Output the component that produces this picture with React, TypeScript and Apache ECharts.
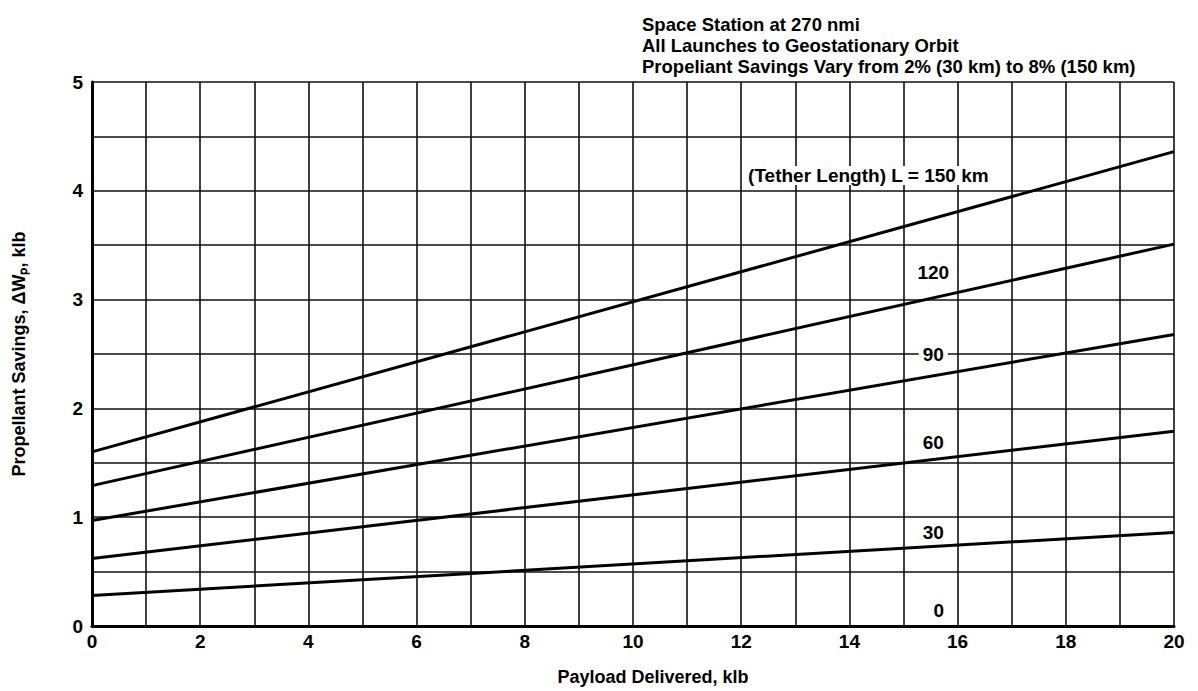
import React, { useEffect, useRef } from "react";
import * as echarts from "echarts";

// Payload delivered (klb) at the two ends of each straight curve
const payloadEnds = [0, 20];

// Propellant savings (klb) at payload 0 and 20 klb, per tether length
const savings150 = [1.6, 4.36];
const savings120 = [1.29, 3.51];
const savings90 = [0.97, 2.68];
const savings60 = [0.62, 1.79];
const savings30 = [0.28, 0.86];

// Curve labels: [x, y, text]
const curveLabels: [number, number, string][] = [
  [14.35, 4.14, "(Tether Length) L = 150 km"],
  [15.55, 3.25, "120"],
  [15.55, 2.5, "90"],
  [15.55, 1.69, "60"],
  [15.55, 0.86, "30"],
  [15.65, 0.14, "0"],
];

const titleLines = [
  "Space Station at 270 nmi",
  "All Launches to Geostationary Orbit",
  "Propeliant Savings Vary from 2% (30 km) to 8% (150 km)",
];

const FONT = "'Liberation Sans', Arial, sans-serif";

export default function App() {
  const ref = useRef<HTMLDivElement>(null);

  useEffect(() => {
    if (!ref.current) return;
    const chart = echarts.init(ref.current, undefined, { renderer: "svg" });

    const curves = [savings150, savings120, savings90, savings60, savings30];
    const lineSeries = curves.map((vals) => ({
      type: "line",
      data: payloadEnds.map((x, i) => [x, vals[i]]),
      symbol: "none",
      silent: true,
      lineStyle: { color: "#000", width: 3 },
      z: 5,
    }));

    chart.setOption({
      animation: false,
      backgroundColor: "#fff",
      title: {
        text: titleLines.join("\n"),
        left: 637,
        top: 9,
        textStyle: {
          fontFamily: FONT,
          fontWeight: "bold",
          fontSize: 18.5,
          lineHeight: 21,
          color: "#000",
        },
      },
      grid: { left: 92, right: 24, top: 82, bottom: 64, containLabel: false },
      xAxis: {
        type: "value",
        min: 0,
        max: 20,
        interval: 1,
        name: "Payload Delivered, klb",
        nameLocation: "middle",
        nameGap: 42,
        nameTextStyle: {
          fontFamily: FONT,
          fontWeight: "bold",
          fontSize: 18,
          color: "#000",
          padding: [0, 0, 0, 40],
        },
        axisLine: { show: true, onZero: false, lineStyle: { color: "#000", width: 3 } },
        axisTick: { show: false },
        axisLabel: {
          fontFamily: FONT,
          fontWeight: "bold",
          fontSize: 19,
          color: "#000",
          margin: 6,
          formatter: (v: number) => (v % 2 === 0 ? String(v) : ""),
        },
        splitLine: { show: true, lineStyle: { color: "#111", width: 1.6 } },
      },
      yAxis: {
        type: "value",
        min: 0,
        max: 5,
        interval: 0.5,
        name: "Propellant Savings, ΔWₚ, klb",
        nameLocation: "middle",
        nameGap: 64,
        nameTextStyle: { fontFamily: FONT, fontWeight: "bold", fontSize: 18, color: "#000" },
        axisLine: { show: true, onZero: false, lineStyle: { color: "#000", width: 3 } },
        axisTick: { show: false },
        axisLabel: {
          fontFamily: FONT,
          fontWeight: "bold",
          fontSize: 19,
          color: "#000",
          margin: 9,
          formatter: (v: number) => (Number.isInteger(v) ? String(v) : ""),
        },
        splitLine: { show: true, lineStyle: { color: "#111", width: 1.6 } },
      },
      series: [
        ...lineSeries,
        {
          type: "scatter",
          data: curveLabels.map((d) => ({ value: [d[0], d[1]], name: d[2] })),
          symbolSize: 0,
          silent: true,
          z: 10,
          label: {
            show: true,
            position: "inside",
            formatter: (p: any) => p.name,
            fontFamily: FONT,
            fontWeight: "bold",
            fontSize: 19,
            color: "#000",
            opacity: 1,
            backgroundColor: "#fff",
            padding: [0, 4],
          },
        },
      ],
    });

    return () => chart.dispose();
  }, []);

  return (
    <div
      ref={ref}
      style={{ position: "fixed", left: 0, top: 0, width: 1198, height: 691, background: "#fff" }}
    />
  );
}
